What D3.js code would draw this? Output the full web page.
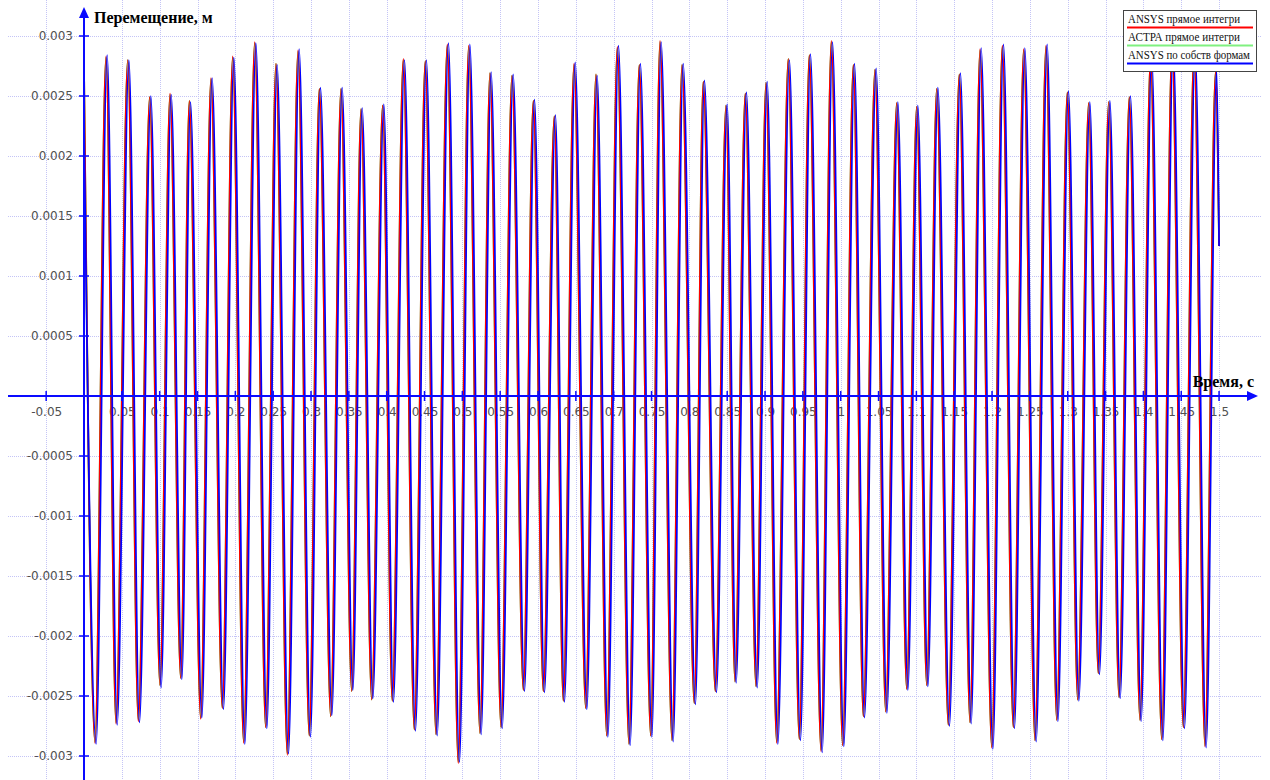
<!DOCTYPE html>
<html>
<head>
<meta charset="utf-8">
<script src="https://cdn.jsdelivr.net/npm/d3@7/dist/d3.min.js"></script>
<style>
html,body{margin:0;padding:0;background:#fff;}
svg{display:block;}
</style>
</head>
<body>
<svg id="chart" width="1270" height="780"></svg>
<script>
// ---- DATA (extrema of each cycle) ----
const xTickValues = [-0.05,0.05,0.1,0.15,0.2,0.25,0.3,0.35,0.4,0.45,0.5,0.55,0.6,0.65,0.7,0.75,0.8,0.85,0.9,0.95,1,1.05,1.1,1.15,1.2,1.25,1.3,1.35,1.4,1.45,1.5];
const xTickLabels = ["-0.05","0.05","0.1","0.15","0.2","0.25","0.3","0.35","0.4","0.45","0.5","0.55","0.6","0.65","0.7","0.75","0.8","0.85","0.9","0.95","1","1.05","1.1","1.15","1.2","1.25","1.3","1.35","1.4","1.45","1.5"];
const yTickValues = [0.003,0.0025,0.002,0.0015,0.001,0.0005,-0.0005,-0.001,-0.0015,-0.002,-0.0025,-0.003];
const yTickLabels = ["0.003","0.0025","0.002","0.0015","0.001","0.0005","-0.0005","-0.001","-0.0015","-0.002","-0.0025","-0.003"];

const seriesNames = ["ANSYS прямое интегри","АСТРА прямое интегри","ANSYS по собств формам"];

// time (s) of extrema for ANSYS direct integration (red) and ASTRA (green)
const redTimes = [0,0.0145,0.0291,0.0423,0.0578,0.0718,0.0868,0.1004,0.1137,0.1278,0.1392,0.1542,0.1678,0.1828,0.1965,0.2110,0.2256,0.2401,0.2537,0.2687,0.2828,0.2977,0.3110,0.3260,0.3396,0.3538,0.3661,0.3802,0.3947,0.4074,0.4220,0.4365,0.4510,0.4652,0.4801,0.4946,0.5084,0.5233,0.5365,0.5511,0.5656,0.5806,0.5938,0.6070,0.6215,0.6334,0.6476,0.6630,0.6766,0.6908,0.7048,0.7202,0.7338,0.7489,0.7612,0.7771,0.7903,0.8065,0.8184,0.8343,0.8484,0.8603,0.8739,0.8881,0.9013,0.9154,0.9307,0.9453,0.9585,0.9740,0.9876,1.0026,1.0167,1.0299,1.0453,1.0595,1.0740,1.0872,1.1004,1.1137,1.1269,1.1422,1.1567,1.1709,1.1841,1.1996,1.2136,1.2281,1.2418,1.2568,1.2713,1.2855,1.2995,1.3132,1.3277,1.3404,1.3542,1.3678,1.3814,1.3955,1.4094,1.4242,1.4378,1.4528,1.4669,1.4814,1.4953,1.5];
const redValues = [0.00278,-0.00289,0.00283,-0.00273,0.0028,-0.00271,0.00249,-0.00241,0.00252,-0.00235,0.00246,-0.00269,0.00265,-0.0026,0.00283,-0.00289,0.00295,-0.00276,0.00277,-0.00299,0.00288,-0.00283,0.00256,-0.00267,0.00256,-0.00246,0.00239,-0.00253,0.00242,-0.00254,0.00281,-0.00278,0.00279,-0.00282,0.00293,-0.00306,0.00292,-0.00281,0.00269,-0.00276,0.00267,-0.00245,0.00246,-0.00246,0.00233,-0.00254,0.00277,-0.0026,0.00268,-0.00283,0.00291,-0.0029,0.00276,-0.00283,0.00296,-0.00287,0.00276,-0.00256,0.00262,-0.00246,0.00242,-0.00238,0.00252,-0.00242,0.00261,-0.00289,0.00281,-0.00286,0.00284,-0.00296,0.00296,-0.00291,0.00276,-0.00267,0.00272,-0.00263,0.00244,-0.00244,0.00241,-0.00241,0.00256,-0.00274,0.00268,-0.00272,0.00289,-0.00293,0.00292,-0.00276,0.00289,-0.00287,0.00292,-0.0027,0.00253,-0.00253,0.00244,-0.00231,0.00245,-0.00251,0.00249,-0.0027,0.00282,-0.00286,0.00292,-0.00276,0.00288,-0.00292,0.0027,0.00125];
const greenValues = [0.00277,-0.00288,0.00282,-0.00272,0.0028,-0.0027,0.00249,-0.00241,0.00251,-0.00235,0.00246,-0.00268,0.00264,-0.0026,0.00282,-0.00288,0.00294,-0.00276,0.00277,-0.00298,0.00287,-0.00283,0.00256,-0.00267,0.00256,-0.00246,0.00239,-0.00253,0.00242,-0.00254,0.0028,-0.00278,0.00279,-0.00282,0.00292,-0.00305,0.00291,-0.00281,0.00269,-0.00276,0.00267,-0.00245,0.00246,-0.00246,0.00233,-0.00254,0.00276,-0.0026,0.00268,-0.00283,0.0029,-0.0029,0.00276,-0.00283,0.00295,-0.00287,0.00276,-0.00256,0.00262,-0.00246,0.00242,-0.00238,0.00252,-0.00242,0.00261,-0.00288,0.00281,-0.00286,0.00284,-0.00295,0.00295,-0.00291,0.00276,-0.00267,0.00272,-0.00263,0.00244,-0.00244,0.00241,-0.00241,0.00256,-0.00274,0.00268,-0.00272,0.00288,-0.00292,0.00291,-0.00276,0.00288,-0.00287,0.00291,-0.0027,0.00253,-0.00253,0.00244,-0.00231,0.00245,-0.00251,0.00249,-0.0027,0.00282,-0.00286,0.00291,-0.00276,0.00288,-0.00291,0.0027,0.00125];
// ANSYS modal superposition (blue) lags slightly
const blueTimes = [0,0.0160,0.0306,0.0438,0.0593,0.0733,0.0883,0.1019,0.1152,0.1293,0.1407,0.1557,0.1693,0.1843,0.1980,0.2125,0.2271,0.2416,0.2552,0.2702,0.2843,0.2992,0.3125,0.3275,0.3411,0.3553,0.3676,0.3817,0.3962,0.4089,0.4235,0.4380,0.4525,0.4667,0.4816,0.4961,0.5099,0.5248,0.5380,0.5526,0.5671,0.5821,0.5953,0.6085,0.6230,0.6349,0.6491,0.6645,0.6781,0.6923,0.7063,0.7217,0.7353,0.7504,0.7627,0.7786,0.7918,0.8080,0.8199,0.8358,0.8499,0.8618,0.8754,0.8896,0.9028,0.9169,0.9322,0.9468,0.9600,0.9755,0.9891,1.0041,1.0182,1.0314,1.0468,1.0610,1.0755,1.0887,1.1019,1.1152,1.1284,1.1437,1.1582,1.1724,1.1856,1.2011,1.2151,1.2296,1.2433,1.2583,1.2728,1.2870,1.3010,1.3147,1.3292,1.3419,1.3557,1.3693,1.3829,1.3970,1.4109,1.4257,1.4393,1.4543,1.4684,1.4829,1.4968,1.5];
const blueValues = [0.0023,-0.0029,0.00284,-0.00274,0.0028,-0.00272,0.0025,-0.00243,0.00251,-0.00236,0.00245,-0.00268,0.00265,-0.00261,0.00282,-0.0029,0.00294,-0.00277,0.00276,-0.00298,0.00289,-0.00284,0.00257,-0.00266,0.00257,-0.00245,0.0024,-0.00252,0.00243,-0.00255,0.0028,-0.00279,0.0028,-0.00283,0.00294,-0.00305,0.00293,-0.00282,0.0027,-0.00277,0.00268,-0.00246,0.00247,-0.00247,0.00234,-0.00255,0.00278,-0.00261,0.00267,-0.00284,0.00292,-0.00291,0.00277,-0.00284,0.00295,-0.00288,0.00277,-0.00257,0.00263,-0.00247,0.00243,-0.00239,0.00253,-0.00243,0.00262,-0.0029,0.0028,-0.00287,0.00285,-0.00297,0.00295,-0.00292,0.00277,-0.00268,0.00273,-0.00264,0.00245,-0.00245,0.00242,-0.00242,0.00257,-0.00275,0.00269,-0.00273,0.0029,-0.00294,0.00293,-0.00277,0.0029,-0.00288,0.00293,-0.00271,0.00254,-0.00254,0.00245,-0.00232,0.00246,-0.00252,0.0025,-0.00271,0.00283,-0.00287,0.00293,-0.00277,0.00289,-0.00293,0.00271,0.00125];

// ---- DRAWING ----
const svg = d3.select("#chart");
const x = d3.scaleLinear().domain([-0.1, 1.55]).range([8.33, 1256.9]);
const y = d3.scaleLinear().domain([-0.0033, 0.0033]).range([792, 0]);
const axisColor = "#0a0aff";

// grid
const grid = svg.append("g").attr("stroke", "#c4c4f6").attr("stroke-width", 1).attr("stroke-dasharray", "1,1");
grid.selectAll("line.v").data(xTickValues).join("line")
  .attr("x1", d => Math.round(x(d)) + 0.5).attr("x2", d => Math.round(x(d)) + 0.5)
  .attr("y1", 0).attr("y2", 780);
grid.selectAll("line.h").data(yTickValues).join("line")
  .attr("y1", d => Math.round(y(d)) + 0.5).attr("y2", d => Math.round(y(d)) + 0.5)
  .attr("x1", 8).attr("x2", 1262);

// axes (ticks + labels), drawn under the data
const xAxisG = svg.append("g").attr("transform", `translate(0,${y(0)})`)
  .call(d3.axisBottom(x).tickValues(xTickValues).tickFormat((d, i) => xTickLabels[i]).tickSize(5).tickPadding(6));
const yAxisG = svg.append("g").attr("transform", `translate(${x(0)},0)`)
  .call(d3.axisLeft(y).tickValues(yTickValues).tickFormat((d, i) => yTickLabels[i]).tickSize(5).tickPadding(6));
[xAxisG, yAxisG].forEach(g => {
  g.select(".domain").remove();
  g.selectAll("text").attr("fill", "#505050").style("font-family", "'DejaVu Sans', sans-serif").style("font-size", "12px");
});
xAxisG.selectAll(".tick line").remove();
yAxisG.selectAll(".tick line").remove();

// data lines
const series = [
  {t: redTimes, v: greenValues, color: "#22dd22"},
  {t: redTimes, v: redValues, color: "#ff0000"},
  {t: blueTimes, v: blueValues, color: "#0000ff"}
];
const line = d3.line().x(d => x(d[0])).y(d => y(d[1])).curve(d3.curveMonotoneX);
const dataG = svg.append("g");
series.forEach(s => {
  dataG.append("path")
    .datum(s.t.map((t, i) => [t, s.v[i]]))
    .attr("fill", "none").attr("stroke", s.color).attr("stroke-width", 1.7)
    .attr("stroke-linejoin", "round")
    .attr("d", line);
});

// axis lines, ticks and arrows on top
const ax = svg.append("g").attr("stroke", axisColor).attr("stroke-width", 2);
ax.append("line").attr("x1", 8).attr("x2", 1250).attr("y1", y(0)).attr("y2", y(0));
ax.append("line").attr("x1", x(0)).attr("x2", x(0)).attr("y1", 780).attr("y2", 15);
ax.selectAll("line.xt").data(xTickValues).join("line")
  .attr("stroke-width", 1.5)
  .attr("x1", d => x(d)).attr("x2", d => x(d)).attr("y1", y(0) - 5).attr("y2", y(0) + 5);
ax.selectAll("line.yt").data(yTickValues).join("line")
  .attr("stroke-width", 1.5)
  .attr("y1", d => y(d)).attr("y2", d => y(d)).attr("x1", x(0) - 5).attr("x2", x(0) + 5);
svg.append("path").attr("fill", axisColor)
  .attr("d", `M${x(0)},7 L${x(0) - 5},18 L${x(0) + 5},18 Z`);
svg.append("path").attr("fill", axisColor)
  .attr("d", `M1258,${y(0)} L1247,${y(0) - 5} L1247,${y(0) + 5} Z`);

// axis titles
svg.append("text").attr("x", 94).attr("y", 23).text("Перемещение, м")
  .style("font-family", "'Liberation Serif', serif").style("font-weight", "bold").style("font-size", "16px").attr("fill", "#000");
svg.append("text").attr("x", 1254).attr("y", 387).attr("text-anchor", "end").text("Время, с")
  .style("font-family", "'Liberation Serif', serif").style("font-weight", "bold").style("font-size", "16px").attr("fill", "#000");

// legend
const legendColors = ["#ff0000", "#80f080", "#0000ff"];
const lg = svg.append("g");
lg.append("rect").attr("x", 1123.5).attr("y", 10.5).attr("width", 133).attr("height", 61)
  .attr("fill", "#fff").attr("stroke", "#444").attr("stroke-width", 1);
seriesNames.forEach((n, i) => {
  lg.append("text").attr("x", 1128).attr("y", 23 + i * 18).text(n)
    .attr("textLength", i === 2 ? 122 : 112).attr("lengthAdjust", "spacingAndGlyphs")
    .style("font-family", "'Liberation Serif', serif").style("font-size", "12px").attr("fill", "#111");
  lg.append("line").attr("x1", 1127).attr("x2", 1253).attr("y1", 27.5 + i * 18).attr("y2", 27.5 + i * 18)
    .attr("stroke", legendColors[i]).attr("stroke-width", 2);
});
</script>
</body>
</html>
